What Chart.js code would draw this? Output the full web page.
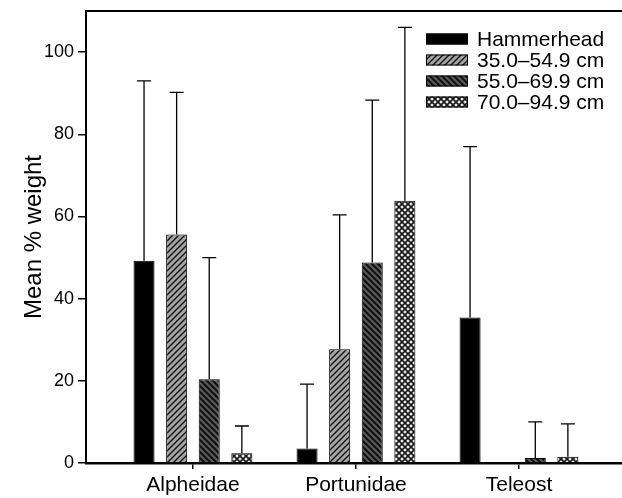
<!DOCTYPE html>
<html>
<head>
<meta charset="utf-8">
<script src="https://cdn.jsdelivr.net/npm/chart.js@4.4.1/dist/chart.umd.min.js"></script>
<style>
  html, body { margin: 0; padding: 0; background: #fff; }
  #wrap { width: 622px; height: 498px; }
</style>
</head>
<body>
<div id="wrap"><canvas id="dietChart"></canvas></div>
<script>
// prey categories and size classes
const categories = ['Alpheidae', 'Portunidae', 'Teleost'];
const seriesLabels = ['Hammerhead', '35.0\u201354.9 cm', '55.0\u201369.9 cm', '70.0\u201394.9 cm'];
const yTicks = [0, 20, 40, 60, 80, 100];

// mean % weight per category
const hammerheadMean = [49.2, 3.5, 35.4];
const small35Mean = [55.6, 27.7, null];
const mid55Mean = [20.4, 48.8, 1.2];
const large70Mean = [2.4, 63.8, 1.5];

// upper error (SD) per category
const hammerheadErr = [43.8, 15.7, 41.6];
const small35Err = [34.6, 32.7, null];
const mid55Err = [29.6, 39.5, 8.8];
const large70Err = [6.6, 42.2, 8.0];

Chart.defaults.font.family = '"Liberation Sans", Arial, Helvetica, sans-serif';
Chart.defaults.color = '#000';

function makePattern(size, bg, draw) {
    const c = document.createElement('canvas');
    c.width = size; c.height = size;
    const g = c.getContext('2d');
    g.fillStyle = bg;
    g.fillRect(0, 0, size, size);
    draw(g, size);
    return g.createPattern(c, 'repeat');
}

// light grey with "/" hatch
const hatchUp = makePattern(6, '#a6a6a6', (g, s) => {
    g.strokeStyle = '#111';
    g.lineWidth = 1.4;
    g.beginPath();
    g.moveTo(0, s); g.lineTo(s, 0);
    g.moveTo(-s / 2, s / 2); g.lineTo(s / 2, -s / 2);
    g.moveTo(s / 2, s * 1.5); g.lineTo(s * 1.5, s / 2);
    g.stroke();
});
// dark grey with "\" hatch
const hatchDown = makePattern(6, '#5a5a5a', (g, s) => {
    g.strokeStyle = '#111';
    g.lineWidth = 2;
    g.beginPath();
    g.moveTo(0, 0); g.lineTo(s, s);
    g.moveTo(-s / 2, s / 2); g.lineTo(s / 2, s * 1.5);
    g.moveTo(s / 2, -s / 2); g.lineTo(s * 1.5, s / 2);
    g.stroke();
});
// cross hatch, light diamonds
const crossHatch = makePattern(6, '#ececec', (g, s) => {
    g.strokeStyle = '#1a1a1a';
    g.lineWidth = 1.7;
    g.beginPath();
    g.moveTo(0, 0); g.lineTo(s, s);
    g.moveTo(0, s); g.lineTo(s, 0);
    g.stroke();
});

const fills = ['#000', hatchUp, hatchDown, crossHatch];
const means = [hammerheadMean, small35Mean, mid55Mean, large70Mean];
const errs = [hammerheadErr, small35Err, mid55Err, large70Err];

const errorBars = {
    id: 'errorBars',
    afterDatasetsDraw(chart) {
        const ctx = chart.ctx;
        const y = chart.scales.y;
        ctx.save();
        ctx.strokeStyle = '#000';
        ctx.lineWidth = 1.3;
        chart.data.datasets.forEach((ds, di) => {
            const meta = chart.getDatasetMeta(di);
            meta.data.forEach((bar, i) => {
                const m = ds.data[i].y;
                const e = ds.errorPlus[i];
                if (m == null || e == null) return;
                const top = y.getPixelForValue(m + e);
                ctx.beginPath();
                ctx.moveTo(bar.x, bar.y);
                ctx.lineTo(bar.x, top);
                ctx.moveTo(bar.x - 7, top);
                ctx.lineTo(bar.x + 7, top);
                ctx.stroke();
            });
        });
        ctx.restore();
    }
};

// top frame line and legend
const frameAndLegend = {
    id: 'frameAndLegend',
    afterDraw(chart) {
        const ctx = chart.ctx;
        const area = chart.chartArea;
        ctx.save();
        ctx.strokeStyle = '#000';
        ctx.lineWidth = 2;
        ctx.beginPath();
        ctx.moveTo(area.left - 1, area.top);
        ctx.lineTo(chart.width, area.top);
        ctx.stroke();

        const boxX = 426, boxW = 42, boxH = 11, textX = 477;
        ctx.font = '21px "Liberation Sans", Arial, sans-serif';
        ctx.textBaseline = 'middle';
        chart.data.datasets.forEach((ds, i) => {
            const cy = 39 + i * 21;
            ctx.fillStyle = ds.backgroundColor;
            ctx.fillRect(boxX, cy - boxH / 2, boxW, boxH);
            ctx.lineWidth = 1;
            ctx.strokeStyle = '#000';
            ctx.strokeRect(boxX + 0.5, cy - boxH / 2 + 0.5, boxW - 1, boxH - 1);
            ctx.fillStyle = '#000';
            ctx.fillText(ds.label, textX, cy + 1);
        });
        ctx.restore();
    }
};

const ctx = document.getElementById('dietChart').getContext('2d');

new Chart(ctx, {
    type: 'bar',
    data: {
        datasets: seriesLabels.map((label, s) => ({
            label: label,
            data: means[s].map((v, i) => ({ x: i + 1, y: v })),
            errorPlus: errs[s],
            backgroundColor: fills[s],
            borderColor: '#000',
            borderWidth: 1,
            categoryPercentage: 0.8,
            barPercentage: 0.645
        }))
    },
    options: {
        responsive: true,
        maintainAspectRatio: false,
        animation: false,
        events: [],
        layout: { padding: { top: 11, right: 0, left: 0, bottom: 0 } },
        plugins: {
            legend: { display: false },
            tooltip: { enabled: false }
        },
        scales: {
            x: {
                type: 'linear',
                offset: false,
                min: 0.344,
                max: 3.632,
                afterBuildTicks: s => { s.ticks = categories.map((c, i) => ({ value: i + 1 })); },
                ticks: {
                    callback: v => categories[v - 1],
                    font: { size: 21 },
                    color: '#000',
                    padding: 4,
                    maxRotation: 0,
                    autoSkip: false
                },
                grid: { offset: false, drawOnChartArea: false, drawTicks: true, tickLength: 6, color: '#000', lineWidth: 1.5 },
                border: { display: true, color: '#000', width: 2.5 },
                afterFit: s => { s.height = 35; s.paddingLeft = 0; s.paddingRight = 0; }
            },
            y: {
                min: 0,
                max: 110,
                afterBuildTicks: s => { s.ticks = yTicks.map(v => ({ value: v })); },
                ticks: { font: { size: 18 }, color: '#000', padding: 4 },
                grid: { drawOnChartArea: false, drawTicks: true, tickLength: 8, color: '#000', lineWidth: 1.5 },
                border: { display: true, color: '#000', width: 2 },
                title: {
                    display: true,
                    text: 'Mean % weight',
                    font: { size: 24 },
                    color: '#000',
                    padding: { top: 20, bottom: 0 }
                },
                afterFit: s => { s.width = 86; s.paddingTop = 0; s.paddingBottom = 0; }
            }
        }
    },
    plugins: [errorBars, frameAndLegend]
});
</script>
</body>
</html>
